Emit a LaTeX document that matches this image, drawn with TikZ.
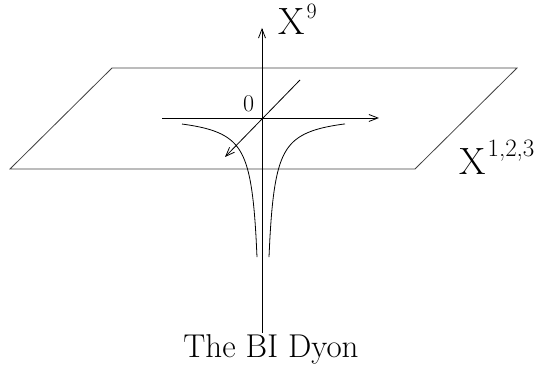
\documentclass[tikz,border=0pt]{standalone}
\usepackage{fontspec}
\usetikzlibrary{arrows.meta}

\begin{document}
\begin{tikzpicture}[x=1pt,y=-1pt,
  line/.style={line width=0.8pt},
  axis/.style={line width=0.8pt,-{Straight Barb[length=9pt,width=7pt]}},
  lbl/.style={inner sep=0pt,anchor=base west}]
  \useasboundingbox (0,0) rectangle (542,371);

  % the brane
  \coordinate (P0) at (112,68);
  \coordinate (P1) at (517,68);
  \coordinate (P2) at (415,169);
  \coordinate (P3) at (10,169);
  \draw[line,black!75] (P0) -- (P1) -- (P2) -- (P3) -- cycle;

  % axes
  \coordinate (O) at (262,118);
  \coordinate (Xtop) at (262,28);
  \coordinate (Xbot) at (262,333);
  \coordinate (Hl) at (162,118);
  \coordinate (Hr) at (379,118);
  \coordinate (Dl) at (300,80);
  \coordinate (Dr) at (225,157);
  \draw[line] (Xbot) -- (O);
  \path[axis] (O) edge (Xtop);
  \path[axis] (Hl) edge (Hr);
  \path[axis] (Dl) edge (Dr);

  % the spike
  \draw[line] plot[domain=6:81,samples=80,smooth] ({263-\x},{113.4+862/\x});
  \draw[line] plot[domain=6:82,samples=80,smooth] ({263+\x},{113.4+862/\x});

  % labels
  \node[lbl] (L9) at (278,35)
    {\fontsize{38}{38}\selectfont X\kern2pt\raisebox{16pt}{\fontsize{22}{22}\selectfont 9}};
  \node[lbl] (L123) at (459,175)
    {\fontsize{38}{38}\selectfont X\kern2pt\raisebox{18pt}{\fontsize{25}{25}\selectfont 1,2,3}};
  \node[lbl] (L0) at (243,112) {\fontsize{24}{24}\selectfont 0};
  \node[inner sep=0pt,anchor=base] (Cap) at (271,358) {\fontsize{33}{33}\selectfont The BI Dyon};
\end{tikzpicture}
\end{document}
